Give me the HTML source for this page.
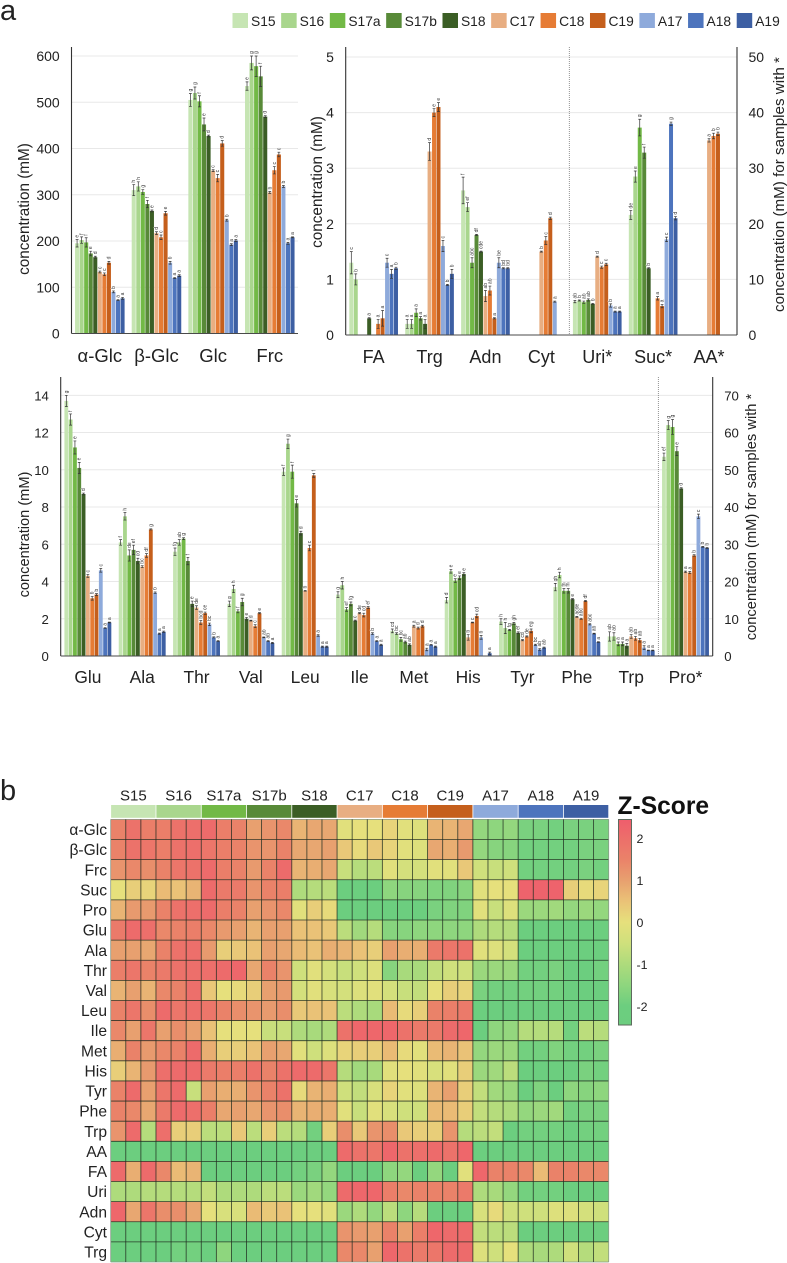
<!DOCTYPE html>
<html lang="en">
<head>
<meta charset="utf-8">
<title>Metabolite concentrations and Z-score heatmap</title>
<style>
html,body{margin:0;padding:0;background:#fff;width:787px;height:1263px;overflow:hidden}
svg{display:block;font-family:"Liberation Sans",sans-serif;fill:#222}
</style>
</head>
<body>
<svg id="figure" xmlns="http://www.w3.org/2000/svg" width="787" height="1263" viewBox="0 0 787 1263">
  <text x="0" y="20" font-size="29">a</text>
  <text x="0" y="800" font-size="29">b</text>
  <g id="legend"></g>
  <g id="chartSugars"></g>
  <g id="chartOthers"></g>
  <g id="chartAmino"></g>
  <text transform="translate(29,209) rotate(-90)" text-anchor="middle" font-size="15.3">concentration (mM)</text>
  <text transform="translate(322,182) rotate(-90)" text-anchor="middle" font-size="15.3">concentration (mM)</text>
  <text transform="translate(784,184.5) rotate(-90)" text-anchor="middle" font-size="15.2">concentration (mM) for samples with *</text>
  <text transform="translate(29,534.5) rotate(-90)" text-anchor="middle" font-size="14.6">concentration (mM)</text>
  <text transform="translate(756,517) rotate(-90)" text-anchor="middle" font-size="14.7">concentration (mM) for samples with *</text>
  <g id="heatmap"></g>
  <text x="617.5" y="814" font-size="24.6" font-weight="bold" fill="#111">Z-Score</text>
  <defs><linearGradient id="zGradient" x1="0" y1="0" x2="0" y2="1"></linearGradient></defs>
  <rect x="618.5" y="819.5" width="13" height="205.5" fill="url(#zGradient)" stroke="#5e6a5e" stroke-width="1"></rect>
  <g id="colorbarTicks"></g>
</svg>
<script>
/* ---------- series ---------- */
const seriesNames = ['S15','S16','S17a','S17b','S18','C17','C18','C19','A17','A18','A19'];
const seriesColors = ['#c6e5b3','#a9d68d','#72b946','#588a38','#3b5e25','#e8ae82','#e67c35','#c55f1c','#8eaadb','#4d74bd','#3d5fa3'];

/* ---------- sugars chart ---------- */
const sugarCategories = ['α-Glc','β-Glc','Glc','Frc'];
const sugarTicks = [0,100,200,300,400,500,600];
const sugarValues = [
  [195,202,197,173,165,133,128,153,90,72,76],
  [310,318,306,280,265,217,208,260,153,120,125],
  [505,520,502,452,427,352,336,411,245,192,201],
  [535,585,578,556,469,305,353,387,318,195,208]
];
const sugarErrors = [
  [8,7,10,5,2,2,3,3,2,1,2],
  [12,10,5,8,2,3,5,4,3,1,2],
  [14,13,12,14,2,2,8,6,2,2,2],
  [9,15,22,22,2,2,8,5,2,2,1]
];
const sugarLetters = [
  ['e','f','f','e','d','c','c','d','b','a','a'],
  ['h','h','g','f','e','d','c','e','b','a','a'],
  ['g','g','f','e','d','c','c','d','b','a','a'],
  ['e','g','g','f','d','b','c','c','b','a','a']
];

/* ---------- other metabolites chart ---------- */
const otherCategories = ['FA','Trg','Adn','Cyt','Uri*','Suc*','AA*'];
const otherTicksLeft = [0,1,2,3,4,5];
const otherTicksRight = [0,10,20,30,40,50];
const otherUsesRightAxis = [false,false,false,false,true,true,true];
const otherValues = [
  [1.3,1.0,0,0,0.3,0,0.2,0.3,1.3,1.1,1.2],
  [0.2,0.2,0.4,0.3,0.2,3.3,4.0,4.1,1.6,0.9,1.1],
  [2.6,2.3,1.3,1.8,1.5,0.7,0.8,0.3,1.3,1.2,1.2],
  [0,0,0,0,0,1.5,1.7,2.1,0.6,0,0],
  [6,6.2,5.9,6.3,5.6,14.1,12.2,12.7,5.3,4.2,4.2],
  [21.6,28.5,37.3,32.8,12,0,6.6,5.2,17.2,38,21],
  [0,0,0,0,0,35,35.8,36.2,0,0,0]
];
const otherErrors = [
  [0.2,0.1,0,0,0.01,0,0.08,0.14,0.08,0.08,0.02],
  [0.08,0.08,0.07,0.03,0.08,0.16,0.07,0.08,0.1,0.01,0.08],
  [0.24,0.08,0.09,0.01,0.01,0.1,0.08,0.01,0.09,0.01,0.01],
  [0,0,0,0,0,0.01,0.07,0.02,0.01,0,0],
  [0.2,0.1,0.2,0.2,0.1,0.1,0.2,0.2,0.3,0.1,0.1],
  [0.8,1,1.5,1,0.1,0,0.3,0.3,0.4,0.3,0.3],
  [0,0,0,0,0,0.3,0.5,0.3,0,0,0]
];
const otherLetters = [
  ['c','b','','','a','','a','a','c','a','b'],
  ['a','a','a','a','a','d','e','e','c','b','b'],
  ['f','ef','abc','df','cde','ab','ab','a','be','bd','bd'],
  ['','','','','','b','c','d','a','',''],
  ['ab','b','ab','ab','b','d','c','c','b','a','a'],
  ['de','e','g','f','b','','a','a','c','g','d'],
  ['','','','','','a','b','b','','','']
];

/* ---------- amino acids chart ---------- */
const aminoCategories = ['Glu','Ala','Thr','Val','Leu','Ile','Met','His','Tyr','Phe','Trp','Pro*'];
const aminoTicksLeft = [0,2,4,6,8,10,12,14];
const aminoTicksRight = [0,10,20,30,40,50,60,70];
const aminoUsesRightAxis = [false,false,false,false,false,false,false,false,false,false,false,true];
const aminoValues = [
  [13.7,12.7,11.2,10.1,8.7,4.3,3.1,3.3,4.6,1.5,1.8],
  [6.1,7.5,5.4,5.7,5.1,4.8,5.4,6.8,3.4,1.2,1.3],
  [5.6,6.1,6.3,5.1,2.8,2.6,1.8,2.3,1.7,1.0,0.8],
  [2.8,3.6,2.4,2.9,2.0,1.9,1.6,2.3,1.0,0.8,0.7],
  [9.9,11.4,9.9,8.2,6.6,3.5,5.8,9.7,1.1,0.5,0.5],
  [3.3,3.8,2.5,2.8,1.9,2.3,2.2,2.6,1.2,0.8,0.6],
  [1.35,1.2,0.9,0.75,0.6,1.6,1.5,1.6,0.35,0.6,0.5],
  [3.0,4.55,4.05,4.2,4.4,1.0,1.8,2.15,1.0,0,0.15],
  [1.85,1.5,1.4,1.75,1.25,0.85,1.05,1.35,0.6,0.35,0.45],
  [3.7,4.35,3.5,3.5,3.05,2.1,2.0,2.95,1.7,1.2,0.75],
  [1.05,1.05,0.65,0.65,0.55,1.05,0.95,0.85,0.45,0.3,0.3],
  [53.5,62,61.5,55,45,22.6,22.4,27,37.5,29.3,29]
];
const aminoErrors = [
  [0.3,0.3,0.35,0.3,0.05,0.08,0.1,0.05,0.1,0.02,0.02],
  [0.15,0.2,0.3,0.25,0.15,0.05,0.1,0.03,0.04,0.03,0.04],
  [0.2,0.15,0.05,0.2,0.15,0.1,0.1,0.06,0.07,0.03,0.03],
  [0.15,0.2,0.08,0.2,0.07,0.02,0.08,0.03,0.02,0.03,0.03],
  [0.2,0.25,0.35,0.2,0.1,0.02,0.15,0.1,0.04,0.03,0.03],
  [0.15,0.2,0.1,0.1,0.03,0.03,0.1,0.05,0.05,0.03,0.03],
  [0.1,0.05,0.1,0.05,0.05,0.05,0.05,0.05,0.07,0.02,0.03],
  [0.15,0.1,0.1,0.1,0.07,0.15,0.02,0.1,0.1,0,0.06],
  [0.15,0.3,0.03,0.05,0.05,0.03,0.03,0.1,0.03,0.05,0.03],
  [0.2,0.15,0.12,0.12,0.03,0.02,0.03,0.03,0.03,0.02,0.02],
  [0.25,0.2,0.1,0.1,0.12,0.1,0.1,0.1,0.1,0.02,0.02],
  [1,1.2,2,1.2,0.2,0.2,0.3,0.2,0.6,0.1,0.1]
];
const aminoLetters = [
  ['g','f','e','e','d','c','b','b','c','a','a'],
  ['f','h','de','ef','cd','bc','df','g','b','a','a'],
  ['fg','ab','g','f','e','de','bcd','ce','bc','b','a'],
  ['g','h','f','g','e','d','c','e','ab','ab','a'],
  ['f','g','f','e','d','b','c','f','a','a','a'],
  ['g','h','ef','fg','c','de','cd','ef','b','a','a'],
  ['cd','bc','bc','ab','ab','a','d','d','a','a','a'],
  ['d','e','e','e','e','b','c','cd','b','','a'],
  ['h','h','fg','gh','ef','cd','de','eg','bc','ab','ab'],
  ['gh','h','fh','fh','e','acde','abc','df','abc','ab','a'],
  ['ab','ab','a','a','a','ab','ab','ab','a','a','a'],
  ['ef','g','g','e','d','a','a','b','c','b','b']
];

/* ---------- heatmap ---------- */
const heatmapRows = ['α-Glc','β-Glc','Frc','Suc','Pro','Glu','Ala','Thr','Val','Leu','Ile','Met','His','Tyr','Phe','Trp','AA','FA','Uri','Adn','Cyt','Trg'];
const colorbarTicks = [2,1,0,-1,-2];
const zAlphaGlc = [1.5,1.9,1.6,1.6,1.9,2.0,2.1,1.6,1.5,1.0,1.2,1.4,0.7,0.9,0.9,-0.1,0,0,0.2,-0.1,-0.2,0.7,0.7,0.9,-1.4,-1.5,-1.4,-1.8,-1.8,-1.9,-1.8,-1.8,-1.8];
const zBetaGlc = [1.5,1.9,1.8,1.6,1.9,2.0,1.8,1.6,1.5,1.2,1.2,1.5,0.9,0.9,1.0,0.4,0.1,0.4,0.2,-0.1,-0.2,0.9,0.8,1.1,-1.4,-1.6,-1.6,-1.9,-1.9,-1.9,-1.9,-1.8,-1.8];
const zFrc = [1.2,1.4,1.3,1.5,1.8,1.9,2.1,1.6,1.5,1.1,1.5,2.1,0.7,0.8,0.9,-0.6,-0.9,-0.8,-0.1,-0.4,-0.4,-0.1,-0.1,0.4,-0.5,-0.6,-0.5,-1.9,-1.9,-1.9,-1.9,-1.8,-1.9];
const zSuc = [0,0.3,0.2,0.6,0.5,0.7,2.1,1.7,1.7,1.2,1.5,1.6,-1,-0.9,-0.8,-2.1,-2,-2.1,-1.5,-1.6,-1.6,-1.7,-1.7,-1.6,-0.1,0,0,2.3,2.3,2.3,0.3,0.1,0.2];
const zPro = [0.7,1.1,1.1,1.5,1.9,2.0,2.1,1.6,1.5,1,1.2,1.4,-0.1,0.3,0.1,-2.1,-2.1,-2.1,-2,-2.1,-2.1,-1.8,-1.7,-1.7,-0.1,-0.6,-0.2,-1.3,-1.3,-1.2,-1.4,-1.3,-1.4];
const zGlu = [1.7,2.1,2.0,1.4,1.5,1.6,1.4,1.1,1,0.7,1.0,1,0.5,0.5,0.4,-0.8,-1.2,-0.9,-1.6,-1.6,-1.5,-1.5,-1.5,-1.5,-1,-0.9,-0.9,-2,-2,-2,-2,-2,-2];
const zAla = [1,1,0.9,1.5,1.9,2.0,1.1,0.3,0.4,0.5,1,0.9,0.6,0.5,0.8,0.7,0.5,0.3,1,0.8,0.8,1.7,1.8,1.9,-0.1,-0.2,-0.4,-2,-2,-2,-2,-2,-2];
const zThr = [1.6,1.8,1.5,1.7,1.9,2,2,2.1,2.2,0.9,1.5,1.2,-0.5,-0.1,-0.4,-0.6,-0.5,-0.2,-1.6,-1.1,-1.1,-0.7,-0.5,-0.5,-1.3,-1.3,-1.3,-1.9,-1.9,-1.8,-2,-2,-1.9];
const zVal = [0.7,1,0.7,1.4,1.5,2,0.4,0,0.1,0.3,1,1.1,-0.4,-0.1,-0.3,-0.4,-0.2,-0.1,-0.4,-0.6,-0.7,0,0.3,0.2,-1.8,-1.9,-1.9,-1.9,-1.9,-1.9,-2,-2,-2];
const zLeu = [1.5,1.8,1.3,2.1,1.8,2,1.8,1.5,1.3,1.2,1.1,1.3,0.4,0.5,0.5,-0.8,-1,-1.1,0.6,0.1,0.3,1.5,1.6,1.7,-2,-2,-2,-2,-2,-2,-2,-2,-2];
const zIle = [1.4,1,1.8,1,1.3,1,0.5,0,0,0,-0.6,-0.6,-1,-1.1,-1,1.9,2.2,2.2,2.2,1.9,1.7,1.7,2.1,2.2,-2,-1.5,-1.4,-0.9,-0.9,-0.9,-1.9,-0.8,-0.9];
const zMet = [0.8,1.5,1.1,1.4,1.5,2.1,0.8,0.3,0.3,0.5,1,0.9,-0.1,-0.5,-0.2,0.2,0.3,0.3,0.6,0.1,-0.1,0.6,0.7,0.5,-1.4,-1.3,-1.3,-1.9,-1.9,-1.7,-1.9,-1.9,-1.8];
const zHis = [0.3,0.7,1.1,2.0,2.1,2.1,1.7,1.6,1.6,1.9,1.5,1.9,2.1,2.1,1.8,-0.9,-1.2,-1.1,-0.1,0,-0.1,-0.3,-0.1,0.3,-1.3,-1.2,-0.8,-2,-2,-2,-2,-1.8,-1.9];
const zTyr = [1.5,2.1,1,1.8,2.1,-0.6,1,0.8,0.8,1.2,1.5,1.9,0.1,0.7,0.8,-0.5,-0.7,-0.3,0.2,-0.1,-0.2,0.7,1,0.3,-0.7,-1.2,-1.3,-2,-1.7,-2,-1.5,-1.6,-1.5];
const zPhe = [1.5,1.4,0.9,1.7,2.1,2,1.6,0.9,1,0.9,1.2,1.3,0.7,0.8,0.8,-0.1,-0.6,-0.1,-0.3,-0.5,-0.5,0.6,0.6,0.3,-0.7,-0.9,-1,-1.4,-1.3,-1.2,-1.9,-1.8,-1.8];
const zTrp = [1.2,2.1,-0.9,2,0.3,0.3,-0.8,-0.8,0.4,-0.8,0.3,-0.8,-0.9,-1.9,0.3,1.3,0.4,1.2,1.3,0.4,0.3,0.3,1.2,-0.9,-0.8,-0.7,-2,-1.9,-1.9,-1.9,-2,-1.9,-1.9];
const zAA = [-2,-2,-2,-2,-2,-2,-2,-2,-2,-2,-2,-2,-2,-2,-2,2.1,1.9,1.8,2.2,1.9,2,2.1,1.9,2.2,-2,-2,-2,-2,-2,-2,-2,-2,-2];
const zFA = [2.1,0.8,2.1,1.4,0.6,0.7,-2,-2,-2,-2,-2,-2,-1.9,-1.8,-1.4,-2,-2,-2,-1.5,-1.4,-2,-1.4,-2,-0.1,2.2,1.5,1.5,1.4,0.6,1.5,1.5,1.4,1.4];
const zUri = [-1,-1,-0.9,-0.9,-0.9,-0.9,-0.7,-1,-1,-1,-0.8,-0.8,-1.3,-1.2,-1.4,2.1,2.2,2.2,1.6,1.4,1.5,1.5,1.5,1.7,-1,-1.1,-1.4,-1.9,-1.9,-1.9,-2,-2,-2];
const zAdn = [2.2,0.9,1.8,1.3,1.3,0.9,0,-0.3,-0.3,0.6,0.4,0.5,0,0,-0.1,-1.3,-1,-1.4,-0.8,-1.5,-0.9,-2,-2,-2,-0.3,0.1,-0.5,-0.5,-0.5,-0.2,-0.2,-0.4,-0.5];
const zCyt = [-2,-2,-2,-2,-2,-2,-2,-2,-2,-2,-2,-2,-2,-2,-2,1.2,1.1,1,1.5,1,1.6,2.2,2.1,2.1,-0.7,-0.8,-0.8,-2,-2,-2,-2,-2,-2];
const zTrg = [-2,-2,-2,-2,-1.9,-1.9,-2,-1.5,-2,-2,-2,-2,-2,-2,-2,1.4,1.4,1,2.2,1.9,1.7,1.8,2.1,2.1,-0.2,-0.5,0,-1,-1.1,-1,-0.5,-0.9,-0.7];
const zScores = [zAlphaGlc,zBetaGlc,zFrc,zSuc,zPro,zGlu,zAla,zThr,zVal,zLeu,zIle,zMet,zHis,zTyr,zPhe,zTrp,zAA,zFA,zUri,zAdn,zCyt,zTrg];

/* ---------- drawing ---------- */
const NS = 'http://www.w3.org/2000/svg';
function svgEl(parent, tag, attrs, text) {
  const el = document.createElementNS(NS, tag);
  for (const k in attrs) el.setAttribute(k, attrs[k]);
  if (text !== undefined) el.textContent = text;
  parent.appendChild(el);
  return el;
}
function slug(s) {
  return String(s).replace('α','alpha').replace('β','beta').replace('*','').toLowerCase();
}

function drawLegend() {
  const g = document.getElementById('legend');
  let x = 232.5;
  seriesNames.forEach(function (name, i) {
    const sw = svgEl(g, 'rect', {x: x, y: 13, width: 15.5, height: 15, fill: seriesColors[i]});
    
    
    const t = svgEl(g, 'text', {x: x + 18.5, y: 26, 'font-size': 13.8}, name);
    
    
    x += 18.5 + t.getComputedTextLength() + 5.6;
  });
}

function drawBarChart(cfg) {
  const g = document.getElementById(cfg.id);
  const yLeft = function (v) { return cfg.baseline - v * cfg.unitLeft; };
  const yRight = function (v) { return cfg.baseline - v * cfg.unitRight; };
  const xGroup = function (i) { return cfg.x0 + (i + 0.5) * cfg.groupPitch; };
  const xBar = function (i, s) { return xGroup(i) + (s - seriesNames.length / 2) * cfg.barPitch; };

  cfg.ticksLeft.forEach(function (t) {
    if (t !== 0) {
      const gl = svgEl(g, 'line', {x1: cfg.x0, x2: cfg.x1, y1: yLeft(t), y2: yLeft(t), stroke: '#e8e8e8', 'stroke-width': 1});
      
      
    }
    const lb = svgEl(g, 'text', {x: cfg.x0 - 11.8, y: yLeft(t) + 5, 'text-anchor': 'end', 'font-size': cfg.tickSize}, t);
    
    
  });
  (cfg.ticksRight || []).forEach(function (t) {
    const lb = svgEl(g, 'text', {x: cfg.x1 + 11.5, y: yRight(t) + 5, 'font-size': cfg.tickSize}, t);
    
    
  });

  cfg.categories.forEach(function (cat, i) {
    const useRight = cfg.usesRight && cfg.usesRight[i];
    const yScale = useRight ? yRight : yLeft;
    cfg.values[i].forEach(function (v, s) {
      if (v <= 0) return;
      const x = xBar(i, s);
      const cx = x + cfg.barPitch / 2;
      const bar = svgEl(g, 'rect', {x: x + 0.25, y: yScale(v), width: cfg.barPitch - 0.5, height: cfg.baseline - yScale(v), fill: seriesColors[s]});
      
      
      const err = cfg.errors[i][s];
      const top = yScale(v + err);
      const bot = yScale(v - err);
      const eb = svgEl(g, 'path', {
        d: 'M' + cx + ' ' + top + 'V' + bot + 'M' + (cx - 1.4) + ' ' + top + 'H' + (cx + 1.4) + 'M' + (cx - 1.4) + ' ' + bot + 'H' + (cx + 1.4),
        stroke: '#333', 'stroke-width': 0.7, fill: 'none'
      });
      
      
      const letter = cfg.letters[i][s];
      if (letter) {
        const lt = svgEl(g, 'text', {transform: 'translate(' + (cx + 1.5) + ',' + (top - 2) + ') rotate(-90)', 'font-size': 5, fill: '#333', stroke: '#fff', 'stroke-width': 0.5, 'paint-order': 'stroke'}, letter);
        
        
      }
    });
    const cl = svgEl(g, 'text', {x: xGroup(i), y: cfg.catBaseline, 'text-anchor': 'middle', 'font-size': cfg.catSize}, cat);
    
    
  });

  if (cfg.dividerIndex !== undefined) {
    const dx = cfg.x0 + cfg.dividerIndex * cfg.groupPitch;
    const dv = svgEl(g, 'line', {x1: dx, x2: dx, y1: cfg.top, y2: cfg.baseline, stroke: '#777', 'stroke-width': 0.8, 'stroke-dasharray': '1 1'});
    
    
  }
  const ax = svgEl(g, 'line', {x1: cfg.x0, x2: cfg.x0, y1: cfg.top, y2: cfg.baseline, stroke: '#333', 'stroke-width': 1.1});
  
  
  const bx = svgEl(g, 'line', {x1: cfg.x0, x2: cfg.x1, y1: cfg.baseline, y2: cfg.baseline, stroke: '#4a4a4a', 'stroke-width': 1.1});
  
  
  if (cfg.ticksRight) {
    const rx = svgEl(g, 'line', {x1: cfg.x1, x2: cfg.x1, y1: cfg.top, y2: cfg.baseline, stroke: '#333', 'stroke-width': 1.1});
    
    
  }
}

const COLOR_Z = [-2.45,-2,-1.5,-1,-0.5,0,0.5,1,1.5,2.45];
const COLOR_RGB = [[108,205,127],[108,206,127],[142,214,126],[174,219,124],[207,224,124],[230,224,124],[234,194,119],[232,160,111],[234,130,105],[239,93,108]];
function zColor(z) {
  const v = Math.max(COLOR_Z[0], Math.min(COLOR_Z[COLOR_Z.length - 1], z));
  let i = 0;
  while (i < COLOR_Z.length - 2 && v > COLOR_Z[i + 1]) i++;
  const f = (v - COLOR_Z[i]) / (COLOR_Z[i + 1] - COLOR_Z[i]);
  const c = [0,1,2].map(function (k) { return Math.round(COLOR_RGB[i][k] + f * (COLOR_RGB[i + 1][k] - COLOR_RGB[i][k])); });
  return 'rgb(' + c.join(',') + ')';
}

function drawHeatmap() {
  const g = document.getElementById('heatmap');
  const left = 110.7, right = 608.7, top = 819.4, bottom = 1262;
  const nCols = zScores[0].length, nRows = zScores.length;
  const cw = (right - left) / nCols, rh = (bottom - top) / nRows;
  const groupW = cw * nCols / seriesNames.length;
  seriesNames.forEach(function (name, i) {
    const hb = svgEl(g, 'rect', {x: left + i * groupW + 0.4, y: 805, width: groupW - 0.8, height: 12.8, fill: seriesColors[i]});
    
    
    const hl = svgEl(g, 'text', {x: left + (i + 0.5) * groupW, y: 800.5, 'text-anchor': 'middle', 'font-size': 15}, name);
    
    
  });
  zScores.forEach(function (row, r) {
    row.forEach(function (z, c) {
      const cell = svgEl(g, 'rect', {x: left + c * cw, y: top + r * rh, width: cw + 0.1, height: rh + 0.1, fill: zColor(z)});
      
      
    });
    const rl = svgEl(g, 'text', {x: 107, y: top + (r + 0.5) * rh + 5.6, 'text-anchor': 'end', 'font-size': 15.6}, heatmapRows[r]);
    
    
  });
  for (let r = 0; r <= nRows; r++) {
    const edge = r === 0 || r === nRows;
    const hg = svgEl(g, 'line', {x1: left, x2: right, y1: top + r * rh, y2: top + r * rh, stroke: edge ? '#8a9a8a' : '#1f2b1f', 'stroke-width': 0.8, 'stroke-opacity': edge ? 1 : 0.9});
    
    
  }
  for (let c = 0; c <= nCols; c++) {
    const edge = c === 0 || c === nCols;
    const vg = svgEl(g, 'line', {x1: left + c * cw, x2: left + c * cw, y1: top, y2: bottom, stroke: edge ? '#8a9a8a' : '#1f2b1f', 'stroke-width': 0.8, 'stroke-opacity': edge ? 1 : 0.9});
    
    
  }
}

function drawColorbar() {
  const grad = document.getElementById('zGradient');
  COLOR_Z.slice().reverse().forEach(function (z) {
    svgEl(grad, 'stop', {offset: ((2.45 - z) / 4.9), 'stop-color': zColor(z)});
  });
  const g = document.getElementById('colorbarTicks');
  colorbarTicks.forEach(function (t) {
    const lb = svgEl(g, 'text', {x: 636.5, y: 922.5 - t * 42 + 4.6, 'font-size': 12.4}, t);
    
    
  });
}

drawLegend();
drawBarChart({
  id: 'chartSugars', x0: 71.5, x1: 298, top: 47, baseline: 333.5,
  unitLeft: 277.5 / 600, groupPitch: 56.65, barPitch: 4.55,
  ticksLeft: sugarTicks, categories: sugarCategories,
  values: sugarValues, errors: sugarErrors, letters: sugarLetters,
  tickSize: 14, catSize: 18.5, catBaseline: 362
});
drawBarChart({
  id: 'chartOthers', x0: 345.7, x1: 737, top: 47, baseline: 335,
  unitLeft: 55.6, unitRight: 5.56, groupPitch: 55.9, barPitch: 4.47,
  ticksLeft: otherTicksLeft, ticksRight: otherTicksRight, usesRight: otherUsesRightAxis,
  categories: otherCategories, values: otherValues, errors: otherErrors, letters: otherLetters,
  dividerIndex: 4, tickSize: 14, catSize: 18, catBaseline: 363
});
drawBarChart({
  id: 'chartAmino', x0: 60.7, x1: 712.7, top: 377, baseline: 656,
  unitLeft: 18.62, unitRight: 3.724, groupPitch: 54.33, barPitch: 4.31,
  ticksLeft: aminoTicksLeft, ticksRight: aminoTicksRight, usesRight: aminoUsesRightAxis,
  categories: aminoCategories, values: aminoValues, errors: aminoErrors, letters: aminoLetters,
  dividerIndex: 11, tickSize: 13.2, catSize: 17.4, catBaseline: 683
});
drawHeatmap();
drawColorbar();
</script>
</body>
</html>
